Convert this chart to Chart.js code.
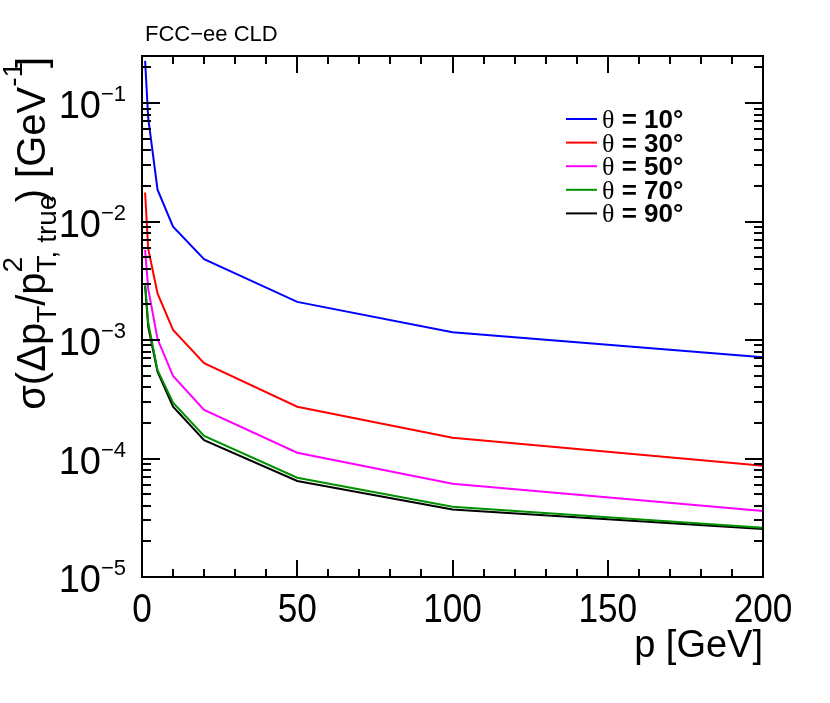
<!DOCTYPE html>
<html>
<head>
<meta charset="utf-8">
<script src="https://cdn.jsdelivr.net/npm/chart.js@4.4.0/dist/chart.umd.min.js"></script>
<style>
  html, body { margin: 0; padding: 0; background: #fff; }
  canvas { display: block; }
</style>
</head>
<body>
<canvas id="res" width="830" height="703"></canvas>
<script>
// momentum points [GeV]
const momenta = [1, 2, 5, 10, 20, 50, 100, 200];

// sigma(dpT/pT^2) [GeV^-1] per polar angle
const theta10 = [0.2275, 0.075, 0.0186, 0.00908, 0.00481, 0.0021, 0.001164, 0.000716];
const theta30 = [0.0176, 0.0059, 0.00248, 0.001216, 0.000637, 0.000274, 0.00015, 0.0000869];
const theta50 = [0.00577, 0.0027, 0.00102, 0.000498, 0.000257, 0.000112, 0.0000612, 0.000036];
const theta70 = [0.00303, 0.0014, 0.000558, 0.000296, 0.000155, 0.0000689, 0.0000392, 0.000026];
const theta90 = [0.00285, 0.0013, 0.000541, 0.000274, 0.000143, 0.0000646, 0.0000372, 0.0000254];

const seriesNames = ["10°", "30°", "50°", "70°", "90°"];
const seriesColors = ["#0000ff", "#ff0000", "#ff00ff", "#009000", "#000000"];

const xTicks = [0, 50, 100, 150, 200];
const yExponents = [-5, -4, -3, -2, -1];

const SANS = '"Liberation Sans", Arial, sans-serif';

const toPoints = (ys) => momenta.map((p, i) => ({ x: p, y: ys[i] }));

// rich text run: segments {t, k: 'n' | 'sub' | 'sup', adv}
function richWidth(ctx, segs, big, small) {
    let w = 0;
    segs.forEach(s => {
        ctx.font = (s.k === "n" ? big : small) + "px " + SANS;
        const m = ctx.measureText(s.t).width;
        w += s.adv !== undefined ? m * s.adv : m;
    });
    return w;
}
function drawRich(ctx, segs, x, y, big, small) {
    let cx = x;
    segs.forEach(s => {
        ctx.font = (s.k === "n" ? big : small) + "px " + SANS;
        let dy = 0;
        if (s.k === "sub") dy = 11;
        if (s.k === "sup") dy = -23;
        ctx.fillText(s.t, cx, y + dy);
        const m = ctx.measureText(s.t).width;
        cx += s.adv !== undefined ? m * s.adv : m;
    });
}

const frame = {
    id: "frame",
    afterDraw(chart) {
        const ctx = chart.ctx;
        const a = chart.chartArea;
        const xs = chart.scales.x;
        const ys = chart.scales.y;
        ctx.save();
        ctx.strokeStyle = "#000";
        ctx.fillStyle = "#000";
        ctx.lineWidth = 2;
        ctx.strokeRect(a.left, a.top, a.right - a.left, a.bottom - a.top);

        // x ticks, inside, bottom and top
        ctx.beginPath();
        for (let v = 10; v < 200; v += 10) {
            const px = Math.round(xs.getPixelForValue(v));
            const len = v % 50 === 0 ? 17 : 8;
            ctx.moveTo(px, a.bottom); ctx.lineTo(px, a.bottom - len);
            ctx.moveTo(px, a.top); ctx.lineTo(px, a.top + len);
        }
        // y ticks, log decades with minor ticks
        yExponents.forEach(e => {
            for (let k = 1; k <= 9; k++) {
                const v = k * Math.pow(10, e);
                if (v > ys.max || (e === -5 && k === 1)) continue;
                const py = Math.round(ys.getPixelForValue(v));
                const len = k === 1 ? 18 : 9;
                ctx.moveTo(a.left, py); ctx.lineTo(a.left + len, py);
                ctx.moveTo(a.right, py); ctx.lineTo(a.right - len, py);
            }
        });
        ctx.stroke();

        // x tick labels (slightly condensed, like the ROOT output)
        ctx.textAlign = "center";
        ctx.textBaseline = "alphabetic";
        ctx.font = "40px " + SANS;
        xTicks.forEach(v => {
            ctx.save();
            ctx.translate(xs.getPixelForValue(v), 622);
            ctx.scale(0.88, 1);
            ctx.fillText(String(v), 0, 0);
            ctx.restore();
        });

        // y tick labels 10^n
        ctx.textAlign = "left";
        yExponents.forEach(e => {
            const py = ys.getPixelForValue(Math.pow(10, e));
            const ex = "\u2212" + Math.abs(e);
            ctx.font = "22px " + SANS;
            const ew = ctx.measureText(ex).width;
            ctx.font = "38px " + SANS;
            const bw = ctx.measureText("10").width;
            const right = 126;
            ctx.fillText("10", right - ew - bw, py + 15);
            ctx.font = "22px " + SANS;
            ctx.fillText(ex, right - ew, py - 2);
        });

        // x title
        ctx.textAlign = "right";
        ctx.font = "38px " + SANS;
        ctx.fillText("p [GeV]", a.right, 657);

        // y title, rotated, right-aligned to top of frame
        const segs = [
            { t: "\u03c3(\u0394p", k: "n" },
            { t: "T", k: "sub" },
            { t: "/p", k: "n" },
            { t: "2", k: "sup", adv: 0 },
            { t: "T, true", k: "sub", adv: 0.9 },
            { t: ") [GeV", k: "n" },
            { t: "-1", k: "sup", adv: 0.75 },
            { t: "]", k: "n" }
        ];
        ctx.save();
        ctx.translate(45, 57);
        ctx.rotate(-Math.PI / 2);
        ctx.textAlign = "left";
        const tw = richWidth(ctx, segs, 40, 28);
        drawRich(ctx, segs, -tw, 0, 40, 28);
        ctx.restore();

        // header
        ctx.textAlign = "left";
        ctx.font = "22px " + SANS;
        ctx.fillText("FCC\u2212ee CLD", 145, 41);

        // legend
        chart.data.datasets.forEach((ds, i) => {
            const ry = 119 + i * 23.6;
            ctx.strokeStyle = ds.borderColor;
            ctx.lineWidth = 2;
            ctx.beginPath();
            ctx.moveTo(566, ry); ctx.lineTo(597, ry);
            ctx.stroke();
            ctx.font = "26px \"Liberation Serif\", serif";
            ctx.fillText("\u03b8", 602, ry + 9);
            const tw0 = ctx.measureText("\u03b8").width;
            ctx.font = "bold 26px " + SANS;
            ctx.fillText(" = " + seriesNames[i], 602 + tw0, ry + 9);
        });
        ctx.restore();
    }
};

new Chart("res", {
    type: "line",
    data: {
        datasets: [theta10, theta30, theta50, theta70, theta90].map((ys, i) => ({
            label: "\u03b8 = " + seriesNames[i],
            data: toPoints(ys),
            borderColor: seriesColors[i],
            backgroundColor: seriesColors[i],
            borderWidth: 2,
            pointRadius: 0,
            tension: 0,
            fill: false
        }))
    },
    options: {
        responsive: false,
        animation: false,
        devicePixelRatio: 1,
        layout: { padding: { left: 142, top: 56, right: 67, bottom: 126 } },
        plugins: { legend: { display: false }, tooltip: { enabled: false } },
        scales: {
            x: { type: "linear", min: 0, max: 200, display: false },
            y: { type: "logarithmic", min: 1e-5, max: 0.25, display: false }
        }
    },
    plugins: [frame]
});
</script>
</body>
</html>
